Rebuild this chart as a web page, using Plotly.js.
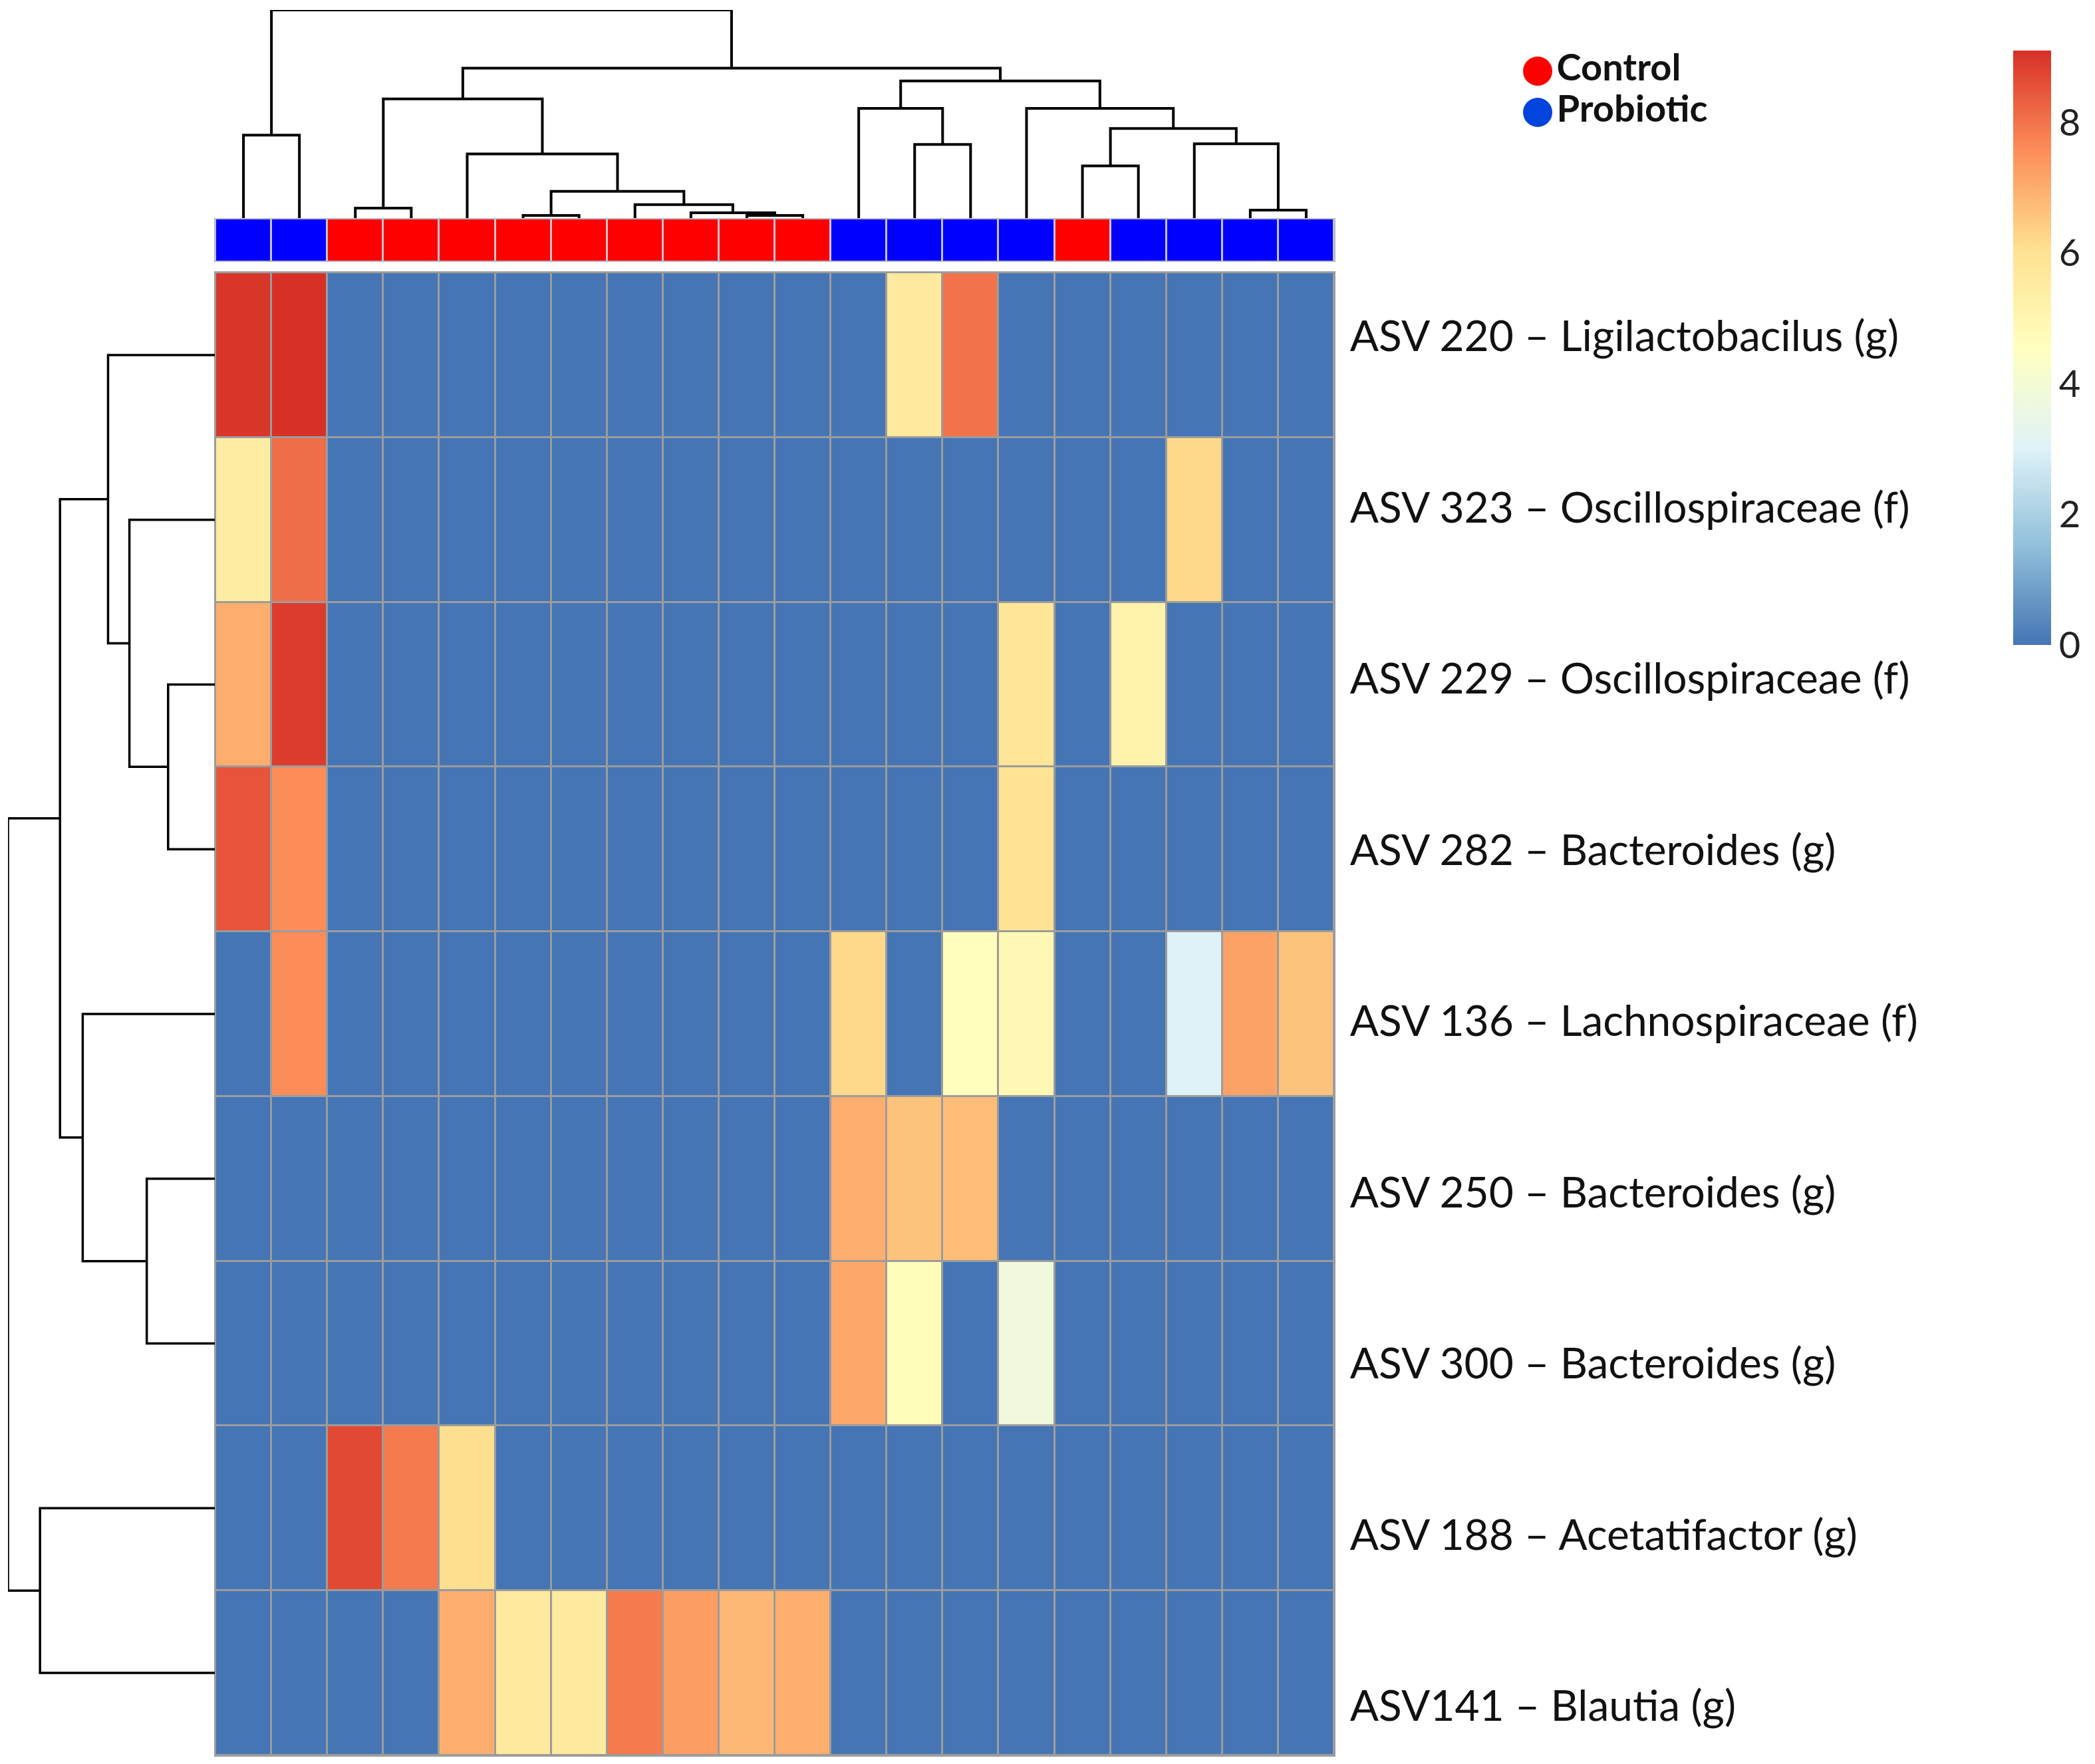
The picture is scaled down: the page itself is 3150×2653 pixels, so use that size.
<!DOCTYPE html>
<html><head><meta charset="utf-8">
<script src="https://cdn.plot.ly/plotly-3.0.1.min.js"></script>
<style>html,body{margin:0;padding:0;background:#fff}</style>
</head><body><div id="chart" style="width:3150px;height:2653px"></div>
<script>
// ---------------- data ----------------
const rowLabels = [
  "ASV 220 – Ligilactobacilus (g)",
  "ASV 323 – Oscillospiraceae (f)",
  "ASV 229 – Oscillospiraceae (f)",
  "ASV 282 – Bacteroides (g)",
  "ASV 136 – Lachnospiraceae (f)",
  "ASV 250 – Bacteroides (g)",
  "ASV 300 – Bacteroides (g)",
  "ASV 188 – Acetatifactor (g)",
  "ASV141 – Blautia (g)"
];
const sampleGroups = ["Probiotic","Probiotic","Control","Control","Control","Control","Control","Control","Control","Control","Control",
  "Probiotic","Probiotic","Probiotic","Probiotic","Control","Probiotic","Probiotic","Probiotic","Probiotic"];
const legendGroups = ["Control","Probiotic"];
const groupColors = {Control:"#FF0000", Probiotic:"#0000FF"};
const legendDotColors = ["#FF0000","#0044DD"];

const asv220 = [9.0,9.1,0,0,0,0,0,0,0,0,0,0,5.6,8.0,0,0,0,0,0,0];
const asv323 = [5.5,8.1,0,0,0,0,0,0,0,0,0,0,0,0,0,0,0,6.2,0,0];
const asv229 = [7.0,8.9,0,0,0,0,0,0,0,0,0,0,0,0,5.8,0,5.2,0,0,0];
const asv282 = [8.5,7.6,0,0,0,0,0,0,0,0,0,0,0,0,5.9,0,0,0,0,0];
const asv136 = [0,7.6,0,0,0,0,0,0,0,0,0,6.2,0,4.6,4.9,0,0,3.0,7.2,6.6];
const asv250 = [0,0,0,0,0,0,0,0,0,0,0,7.0,6.6,6.7,0,0,0,0,0,0];
const asv300 = [0,0,0,0,0,0,0,0,0,0,0,7.1,4.7,0,3.8,0,0,0,0,0];
const asv188 = [0,0,8.7,7.9,6.1,0,0,0,0,0,0,0,0,0,0,0,0,0,0,0];
const asv141 = [0,0,0,0,7.0,5.6,5.6,7.9,7.3,6.8,7.0,0,0,0,0,0,0,0,0,0];
const zMatrix = [asv220, asv323, asv229, asv282, asv136, asv250, asv300, asv188, asv141];

// dendrogram merges: [childA, childB, height]; leaves 0..n-1, merges n, n+1, ...
const colMerges = [
  [9,10,2],[8,20,4],[7,21,10],[5,6,2],[23,22,20],[4,24,48],[2,3,7.4],[26,25,89],
  [12,13,55],[11,28,82],[15,16,39],[18,19,6],[17,31,55.5],[30,32,67],[14,33,82],
  [29,34,102.5],[27,35,112],[0,1,62],[37,36,155.5]
];
const rowMerges = [
  [2,3,35],[1,9,64],[0,10,80],[5,6,51],[4,12,99],[11,13,116],[7,8,131],[14,15,155]
];

const colorTicks = [0,2,4,6,8];
const zMax = 9.1;
const palette = ["#4575B4","#91BFDB","#E0F3F8","#FFFFBF","#FEE090","#FC8D59","#D73027"];

// ---------------- helpers ----------------
function dendroSegments(nLeaves, merges) {
  const pos = [], ht = [];
  for (let i = 0; i < nLeaves; i++) { pos.push(i); ht.push(0); }
  const a = [], b = [];
  merges.forEach(m => {
    const [c1, c2, h] = m;
    const p1 = pos[c1], p2 = pos[c2];
    a.push(p1, p1, p2, p2, null);
    b.push(ht[c1], h, h, ht[c2], null);
    pos.push((p1 + p2) / 2); ht.push(h);
  });
  return {pos: a, h: b};
}

const W = 3150, H = 2653;
const px = v => v / W, py = v => 1 - v / H;
const grid = "#9c9c9c";
const FONT = "Lato, 'Open Sans', sans-serif";

const nCols = sampleGroups.length, nRows = rowLabels.length;
const colIdx = sampleGroups.map((_, i) => i);
const rowIdx = rowLabels.map((_, i) => i);

const cs = palette.map((c, i) => [i / (palette.length - 1), c]);

const traces = [];
traces.push({
  type: "heatmap", z: zMatrix, x: colIdx, y: rowIdx, xaxis: "x", yaxis: "y",
  zmin: 0, zmax: zMax, colorscale: cs, xgap: 3, ygap: 3, hoverinfo: "skip",
  colorbar: {
    x: px(3027), xanchor: "left", xpad: 0, ypad: 0,
    y: py(523), yanchor: "middle",
    thickness: 57, thicknessmode: "pixels", len: 894, lenmode: "pixels",
    outlinewidth: 0, tickvals: colorTicks, ticks: "",
    tickfont: {family: FONT, size: 56, color: "#222"}
  }
});
traces.push({
  type: "heatmap", z: [sampleGroups.map(g => g === "Control" ? 0 : 1)], x: colIdx, y: [0],
  xaxis: "x2", yaxis: "y2", zmin: 0, zmax: 1, showscale: false, xgap: 3, hoverinfo: "skip",
  colorscale: [[0, groupColors.Control], [0.5, groupColors.Control], [0.5, groupColors.Probiotic], [1, groupColors.Probiotic]]
});
const cd = dendroSegments(nCols, colMerges);
traces.push({type: "scatter", mode: "lines", x: cd.pos, y: cd.h, xaxis: "x3", yaxis: "y3",
  line: {color: "#000", width: 4}, hoverinfo: "skip", showlegend: false});
const rd = dendroSegments(nRows, rowMerges);
traces.push({type: "scatter", mode: "lines", x: rd.h, y: rd.pos, xaxis: "x4", yaxis: "y4",
  line: {color: "#000", width: 3.5}, hoverinfo: "skip", showlegend: false});
traces.push({type: "scatter", mode: "markers+text", x: legendGroups.map(() => 0), y: legendGroups,
  xaxis: "x5", yaxis: "y5", text: legendGroups, textposition: "middle right",
  textfont: {family: FONT, size: 56, color: "#111", weight: "bold"},
  marker: {size: 44, color: legendDotColors}, cliponaxis: false, hoverinfo: "skip", showlegend: false});
// invisible carrier for the row-label axis
traces.push({type: "scatter", mode: "markers", x: rowIdx.map(() => 0), y: rowIdx, xaxis: "x6", yaxis: "y6",
  marker: {size: 1, opacity: 0}, hoverinfo: "skip", showlegend: false});

const hide = {showgrid: false, zeroline: false, showticklabels: false, ticks: "", showline: false};
const hx = [px(324), px(2006)];
const hy = [py(2640), py(410)];

const layout = {
  width: W, height: H, margin: {l: 0, r: 0, t: 0, b: 0, pad: 0},
  paper_bgcolor: "#fff", plot_bgcolor: "rgba(0,0,0,0)", showlegend: false,
  xaxis: Object.assign({}, hide, {domain: hx, range: [-0.5, nCols - 0.5], anchor: "y",
    showline: true, mirror: true, linecolor: grid, linewidth: 2}),
  yaxis: Object.assign({}, hide, {domain: hy, range: [nRows - 0.5, -0.5], anchor: "x",
    showline: true, mirror: true, linecolor: grid, linewidth: 2}),
  xaxis2: Object.assign({}, hide, {domain: hx, range: [-0.5, nCols - 0.5], anchor: "y2",
    showline: true, mirror: true, linecolor: "#b8b8c8", linewidth: 2}),
  yaxis2: Object.assign({}, hide, {domain: [py(392), py(330)], range: [-0.5, 0.5], anchor: "x2",
    showline: true, mirror: true, linecolor: "#b8b8c8", linewidth: 2}),
  xaxis3: Object.assign({}, hide, {domain: hx, range: [-0.5, nCols - 0.5], anchor: "y3"}),
  yaxis3: Object.assign({}, hide, {domain: [py(328), py(15)], range: [0, 155.5], anchor: "x3"}),
  xaxis4: Object.assign({}, hide, {domain: [px(12), px(323)], range: [155, 0], anchor: "y4"}),
  yaxis4: Object.assign({}, hide, {domain: hy, range: [nRows - 0.5, -0.5], anchor: "x4"}),
  xaxis5: Object.assign({}, hide, {domain: [px(2268), px(2708)], range: [-1, 9], anchor: "y5"}),
  yaxis5: Object.assign({}, hide, {domain: [py(200), py(76)], type: "category", range: [1.5, -0.5], anchor: "x5"}),
  xaxis6: Object.assign({}, hide, {domain: hx, range: [-1, 1], anchor: "y6"}),
  yaxis6: {domain: [py(2640), py(377)], range: [8.288, -0.5], anchor: "x6", side: "right",
    tickvals: rowIdx, ticktext: rowLabels, ticks: "outside", ticklen: 10, tickcolor: "rgba(0,0,0,0)",
    tickfont: {family: FONT, size: 64, color: "#111"}, showgrid: false, zeroline: false, showline: false},
  shapes: [
    {type: "rect", xref: "x domain", yref: "y domain", x0: 0, x1: 1, y0: 0, y1: 1,
      fillcolor: grid, line: {width: 0}, layer: "below"},
    {type: "rect", xref: "x2 domain", yref: "y2 domain", x0: 0, x1: 1, y0: 0, y1: 1,
      fillcolor: "#c4c4d0", line: {width: 0}, layer: "below"}
  ]
};

Plotly.newPlot("chart", traces, layout, {displayModeBar: false, staticPlot: true});
</script></body></html>
